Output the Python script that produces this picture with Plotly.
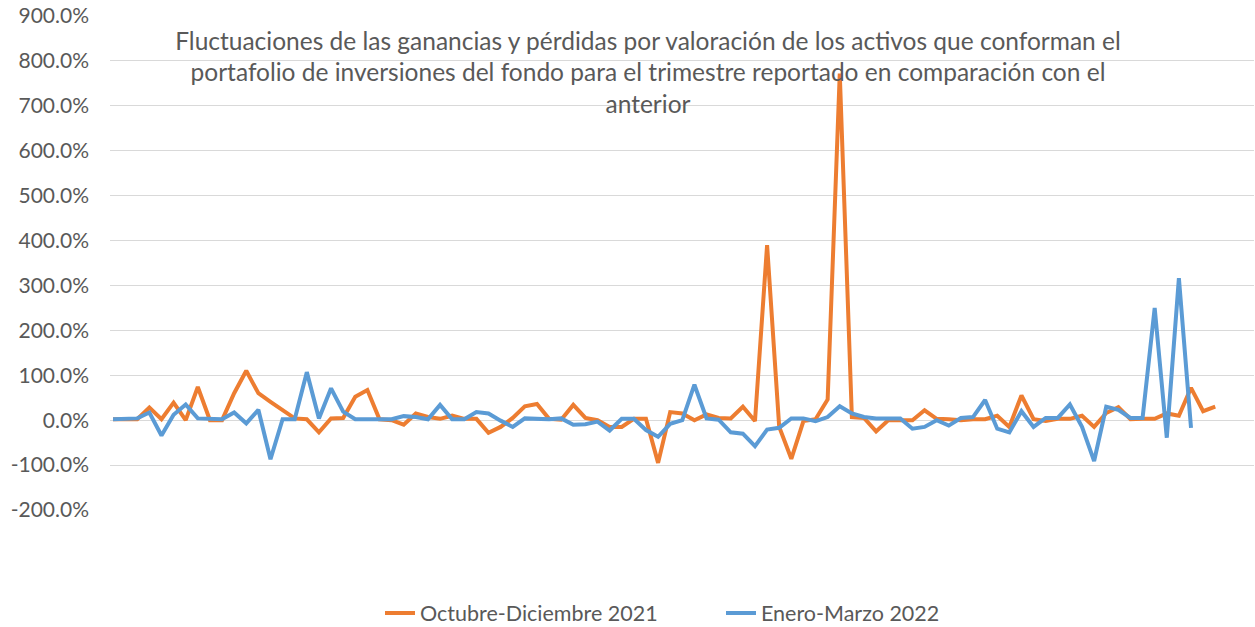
import plotly.graph_objects as go

# Asset positions (unlabelled categories on the x axis)
oct_dic_2021 = [2, 2, 2, 28, 2, 39, 0, 74, 0, 0,
                60, 110, 60, 41, 23, 4, 2, -27, 4, 5,
                52, 67, 2, 0, -10, 15, 7, 3, 10, 3,
                3, -28, -15, 5, 31, 36, 3, 1, 34, 5,
                0, -15, -15, 3, 3, -95, 18, 15, 0, 13,
                5, 4, 30, -2, 390, -15, -86, -2, 2, 46,
                772, 7, 5, -25, 0, 0, 0, 22, 3, 2,
                0, 2, 2, 10, -15, 55, 2, -2, 3, 3,
                10, -15, 16, 29, 2, 3, 3, 15, 10, 72,
                20, 30]

ene_mar_2022 = [2, 2, 4, 17, -34, 12, 35, 4, 2, 2,
                17, -7, 23, -87, 2, 2, 107, 4, 71, 19,
                2, 2, 2, 2, 9, 7, 2, 34, 2, 2,
                18, 15, -1, -15, 4, 2, 2, 4, -10, -9,
                -3, -23, 3, 3, -22, -37, -8, 0, 79, 4,
                1, -27, -30, -58, -21, -17, 4, 4, -2, 7,
                31, 15, 7, 4, 4, 4, -19, -15, 0, -12,
                5, 7, 45, -19, -27, 20, -15, 5, 5, 35,
                -15, -91, 30, 23, 5, 5, 250, -39, 316, -17]

asset_index_2021 = list(range(len(oct_dic_2021)))
asset_index_2022 = list(range(len(ene_mar_2022)))

series_names = ["Octubre-Diciembre 2021", "Enero-Marzo 2022"]
y_tick_values = [-200, -100, 0, 100, 200, 300, 400, 500, 600, 700, 800, 900]
y_tick_labels = ["-200.0%", "-100.0%", "0.0%", "100.0%", "200.0%", "300.0%",
                 "400.0%", "500.0%", "600.0%", "700.0%", "800.0%", "900.0%"]

title_text = ("Fluctuaciones de las ganancias y pérdidas por valoración de los activos que conforman el<br>"
              "portafolio de inversiones del fondo para el trimestre reportado en comparación con el<br>"
              "anterior")

FONT = "Lato"
TEXT = "#595959"
W, H = 1255, 627

fig = go.Figure()
fig.add_trace(go.Scatter(x=asset_index_2021, y=oct_dic_2021, mode="lines",
                         name=series_names[0],
                         line=dict(color="#ED7D31", width=4, shape="linear"),
                         hoverinfo="skip"))
fig.add_trace(go.Scatter(x=asset_index_2022, y=ene_mar_2022, mode="lines",
                         name=series_names[1],
                         line=dict(color="#5B9BD5", width=4, shape="linear"),
                         hoverinfo="skip"))

fig.update_layout(
    width=W, height=H,
    paper_bgcolor="white", plot_bgcolor="white",
    margin=dict(l=110, r=1, t=16, b=116.5, autoexpand=False),
    font=dict(family=FONT, color=TEXT, size=21),
    title=dict(text=title_text, x=648 / W, xanchor="center", xref="container",
               y=1 - 49.5 / H, yanchor="top", yref="container",
               font=dict(family=FONT, size=24.5, color=TEXT)),
    showlegend=True,
    legend=dict(orientation="h", x=380 / W, xref="container", xanchor="left",
                y=(H - 613) / H, yref="container", yanchor="middle",
                font=dict(family=FONT, size=21.5, color=TEXT),
                itemwidth=30, entrywidth=296, entrywidthmode="pixels",
                traceorder="normal", bgcolor="rgba(0,0,0,0)"),
)
fig.update_xaxes(range=[-0.25, 94.2], showticklabels=False, showgrid=False,
                 zeroline=False, showline=False, ticks="", automargin=False)
fig.update_yaxes(range=[-200, 900], tickvals=y_tick_values, ticktext=y_tick_labels,
                 showgrid=True, gridcolor="#D9D9D9", gridwidth=1.3,
                 zeroline=False, showline=False, ticks="", automargin=False,
                 ticklabelstandoff=20, ticklabeloverflow="allow",
                 tickfont=dict(family=FONT, size=21, color=TEXT))

fig.write_html("out.html",
               config={"displayModeBar": False},
               post_script="document.body.style.margin='0';document.body.style.overflow='hidden';")
